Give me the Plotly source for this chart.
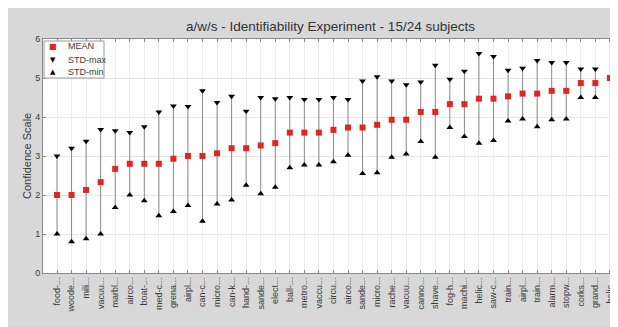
import plotly.graph_objects as go

labels = ["food-...", "woode...", "mili...", "vacuu...", "marbl...", "airco...", "boat-...",
          "med-c...", "grena...", "airpl...", "can-c...", "micro...", "can-k...", "hand-...",
          "sande...", "elect...", "ball-...", "metro...", "vaccu...", "circu...", "airco...",
          "sande...", "micro...", "rache...", "vacuu...", "canno...", "shave...", "fog-h...",
          "machi...", "helic...", "saw-c...", "train...", "airpl...", "train...", "alarm...",
          "stopw...", "corks...", "grand...", "helic..."]
mean_vals = [2.0, 2.0, 2.13, 2.33, 2.67, 2.8, 2.8, 2.8, 2.93, 3.0, 3.0, 3.07, 3.2, 3.2,
             3.27, 3.33, 3.6, 3.6, 3.6, 3.67, 3.73, 3.73, 3.8, 3.93, 3.93, 4.13, 4.13, 4.33,
             4.33, 4.47, 4.47, 4.53, 4.6, 4.6, 4.67, 4.67, 4.87, 4.87, 5.0]
std_max = [3.0, 3.2, 3.38, 3.68, 3.65, 3.6, 3.75, 4.13, 4.28, 4.27, 4.67, 4.37, 4.53, 4.15,
           4.5, 4.47, 4.5, 4.45, 4.45, 4.5, 4.45, 4.92, 5.03, 4.92, 4.83, 4.9, 5.33, 4.97,
           5.17, 5.63, 5.55, 5.2, 5.25, 5.45, 5.4, 5.4, 5.23, 5.23, None]
std_min = [1.0, 0.8, 0.88, 1.0, 1.68, 2.0, 1.85, 1.47, 1.58, 1.73, 1.33, 1.77, 1.87, 2.25,
           2.03, 2.2, 2.7, 2.77, 2.77, 2.85, 3.02, 2.55, 2.57, 2.97, 3.05, 3.37, 2.97, 3.73,
           3.5, 3.33, 3.4, 3.9, 3.95, 3.75, 3.93, 3.95, 4.5, 4.5, None]
series_names = ["MEAN", "STD-max", "STD-min"]
title_text = "a/w/s - Identifiability Experiment - 15/24 subjects"
y_title = "Confidence Scale"

xs = list(range(1, len(labels) + 1))

# stems from min to max
stem_x, stem_y = [], []
for x, lo, hi in zip(xs, std_min, std_max):
    if lo is None or hi is None:
        continue
    stem_x += [x, x, None]
    stem_y += [lo, hi, None]

FONT = "Liberation Sans, Arial, sans-serif"
TXT = "#3a3a3a"
RED = "#e52420"

fig = go.Figure()
fig.add_trace(go.Scatter(x=stem_x, y=stem_y, mode="lines",
                         line=dict(color="#8c8c8c", width=1),
                         hoverinfo="skip", showlegend=False))
fig.add_trace(go.Scatter(x=xs, y=mean_vals, mode="markers", name=series_names[0],
                         showlegend=False,
                         marker=dict(symbol="square", size=6, color=RED)))
fig.add_trace(go.Scatter(x=xs, y=std_max, mode="markers", name=series_names[1],
                         showlegend=False,
                         marker=dict(symbol="triangle-down", size=6, color="black")))
fig.add_trace(go.Scatter(x=xs, y=std_min, mode="markers", name=series_names[2],
                         showlegend=False,
                         marker=dict(symbol="triangle-up", size=6, color="black")))

OFF = 8  # page body margin
W, H = 610, 319
L, R, T, B = 35, 0, 31, 54
pw, ph = W - L - R, H - T - B

def px_x(p):  # screenshot px -> paper
    return (p - OFF - L) / pw

def px_y(p):
    return (H - B - (p - OFF)) / ph

annotations = []
annotations.append(dict(text=y_title, xref="paper", yref="paper",
                        x=px_x(27), y=px_y(156), xanchor="center", yanchor="middle",
                        textangle=-90, showarrow=False,
                        font=dict(family=FONT, size=11, color=TXT)))
leg_y = [46, 59.5, 72]
leg_sym = ["■", "▼", "▲"]
leg_col = [RED, "black", "black"]
leg_size = [8, 7, 7]
for name, yy, sym, col, sz in zip(series_names, leg_y, leg_sym, leg_col, leg_size):
    annotations.append(dict(text=sym, xref="paper", yref="paper",
                            x=px_x(53), y=px_y(yy), xanchor="center", yanchor="middle",
                            showarrow=False,
                            font=dict(family="DejaVu Sans", size=sz, color=col)))
    annotations.append(dict(text=name, xref="paper", yref="paper",
                            x=px_x(66), y=px_y(yy), xanchor="left", yanchor="middle",
                            showarrow=False,
                            font=dict(family=FONT, size=9, color=TXT)))

fig.update_layout(
    width=W, height=H,
    margin=dict(l=L, r=R, t=T, b=B, pad=0),
    paper_bgcolor="#d8d8d8",
    plot_bgcolor="white",
    font=dict(family=FONT, size=9, color=TXT),
    title=dict(text=title_text, x=0.5, xref="paper", xanchor="center",
               y=1 - (26 - OFF) / H, yanchor="middle",
               font=dict(family=FONT, size=13.5, color="#333333")),
    showlegend=False,
    xaxis=dict(range=[1 - 14 / 14.55, 1 + (pw - 14) / 14.55], automargin=False,
               tickmode="array", tickvals=xs, ticktext=labels, tickangle=-90,
               ticklabeloverflow="allow",
               showgrid=True, gridcolor="#ececec", gridwidth=1,
               zeroline=False, showline=True, linecolor="#8a8a8a", linewidth=1,
               mirror="allticks", ticks="inside", ticklen=3, tickcolor="#8a8a8a",
               tickfont=dict(family=FONT, size=9, color=TXT)),
    yaxis=dict(range=[0, 6], tickmode="array", tickvals=[0, 1, 2, 3, 4, 5, 6],
               automargin=False,
               showgrid=True, gridcolor="#e6e6e6", gridwidth=1,
               zeroline=False, showline=True, linecolor="#8a8a8a", linewidth=1,
               mirror="allticks", ticks="inside", ticklen=3, tickcolor="#8a8a8a",
               tickfont=dict(family=FONT, size=9, color=TXT)),
    shapes=[
        dict(type="rect", xref="paper", yref="paper", layer="above",
             x0=px_x(44), x1=px_x(104), y0=px_y(78), y1=px_y(41),
             fillcolor="white", line=dict(color="#9a9a9a", width=1)),
    ],
    annotations=annotations,
)

fig.write_html("out.html")
